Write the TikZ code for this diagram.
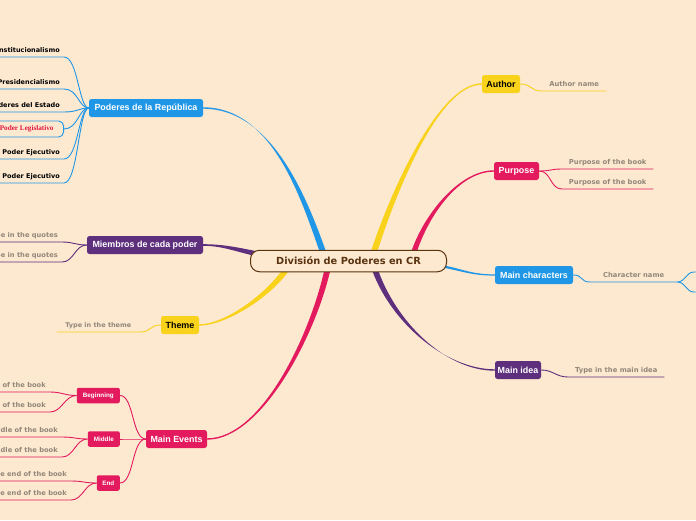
\documentclass[tikz,border=0pt]{standalone}
\usepackage{fontspec}
\setmainfont{Liberation Sans}
\newfontfamily\dvs{DejaVu Sans}
\newfontfamily\lserif{Liberation Serif}
\usetikzlibrary{calc}
\definecolor{bgc}{HTML}{FDE8D0}
\definecolor{cyel}{HTML}{F9D21C}
\definecolor{cred}{HTML}{E31B5E}
\definecolor{cblue}{HTML}{1F96E6}
\definecolor{cpur}{HTML}{5E2F7C}
\definecolor{cbrown}{HTML}{5A3310}
\definecolor{lgray}{HTML}{928879}
\definecolor{legred}{HTML}{E0163F}
\pgfdeclarelayer{bglayer}
\pgfsetlayers{bglayer,main}
\newcommand\brch[7]{\fill[#1] ($#2+#6$) .. controls +#3 and +#4 .. ($#5+#7$) -- ($#5-#7$) .. controls +#4 and +#3 .. ($#2-#6$) -- cycle;}
\tikzset{
 mainnode/.style={rounded corners=2.5pt, minimum height=18pt, inner sep=0pt, font=\fontsize{8.9}{10}\selectfont\bfseries, text=white},
 subnode/.style={rounded corners=2pt, fill=cred, inner sep=0pt, minimum height=15.5pt, font=\fontsize{6.3}{7}\selectfont\bfseries, text=white, anchor=east},
 leafR/.style={anchor=south west, inner xsep=0pt, inner ysep=4.5pt, text height=5pt, text depth=0pt, font=\dvs\bfseries\fontsize{6.8}{8}\selectfont, text=lgray},
 leafL/.style={anchor=south east, inner xsep=4pt, inner ysep=4.5pt, text height=5pt, text depth=0pt, font=\dvs\bfseries\fontsize{6.7}{8}\selectfont, text=lgray},
 leafK/.style={leafL, text=black, font=\dvs\bfseries\fontsize{6.5}{8}\selectfont},
 legis/.style={anchor=east, draw=cblue, line width=0.9pt, fill=bgc, rounded corners=5pt, minimum height=16pt, inner xsep=10pt, inner ysep=0pt, text=legred, font=\lserif\bfseries\fontsize{7.2}{8}\selectfont},
 conn/.style={line width=0.9pt},
}
\begin{document}
\begin{tikzpicture}[x=1pt,y=-1pt]
\useasboundingbox (0,0) rectangle (696,520);
\clip (0,0) rectangle (696,520);
% center
\node[draw=cbrown, line width=1pt, fill=bgc, rounded corners=9pt, minimum width=196pt, minimum height=21.5pt, inner sep=0pt, font=\dvs\bfseries\fontsize{9.8}{11}\selectfont, text=cbrown] (c) at (348.5,261) {División de Poderes en CR};
% main nodes
\node[mainnode, fill=cyel, text=black, minimum width=38pt] (aut) at (501,84) {Author};
\node[mainnode, fill=cred, minimum width=45pt] (pur) at (516.5,171) {Purpose};
\node[mainnode, fill=cblue, minimum width=78pt] (mch) at (534,275) {Main characters};
\node[mainnode, fill=cpur, minimum width=46pt] (mid) at (518,370) {Main idea};
\node[mainnode, fill=cblue, minimum width=114pt] (pod) at (146,108) {Poderes de la República};
\node[mainnode, fill=cpur, minimum width=116pt] (mie) at (145,245) {Miembros de cada poder};
\node[mainnode, fill=cyel, text=black, minimum width=38pt] (the) at (180,325) {Theme};
\node[mainnode, fill=cred, minimum width=61pt] (mev) at (176.5,439) {Main Events};
% sub nodes
\node[subnode, minimum width=43pt] (beg) at (120,395.5) {Beginning};
\node[subnode, minimum width=32pt] (mdl) at (120,439) {Middle};
\node[subnode, minimum width=23pt] (endn) at (120,483) {End};
% Poderes leaves
\node[leafK] (p1) at (64,57) {Constitucionalismo};
\node[leafK] (p2) at (64,89) {Presidencialismo};
\node[leafK] (p3) at (64,112) {Poderes del Estado};
\node[legis] (p4) at (64,129) {Poder Legislativo};
\node[leafK] (p5) at (64,159) {Poder Ejecutivo};
\node[leafK] (p6) at (64,183) {Poder Ejecutivo};
% Miembros leaves
\node[leafL] (q1) at (62,242) {Type in the quotes};
\node[leafL] (q2) at (62,262) {Type in the quotes};
% Main events leaves
\node[leafL] (b1) at (50,392) {Type in the beginning of the book};
\node[leafL] (b2) at (50,412) {Type in the beginning of the book};
\node[leafL] (m1) at (62,437) {Type in the middle of the book};
\node[leafL] (m2) at (62,457) {Type in the middle of the book};
\node[leafL] (e1) at (71,481) {Type in the end of the book};
\node[leafL] (e2) at (71,500) {Type in the end of the book};
% right leaves
\node[leafR, minimum width=64pt] (la) at (542,91) {Author name};
\node[leafR, minimum width=91pt] (lp1) at (562,169) {Purpose of the book};
\node[leafR, minimum width=91pt] (lp2) at (562,189) {Purpose of the book};
\node[leafR, minimum width=87pt] (lc) at (590,282) {Character name};
\node[leafR, minimum width=96pt] (lm) at (568,377) {Type in the main idea};
\node[leafR, anchor=south east, minimum width=83pt, font=\dvs\bfseries\fontsize{6.5}{8}\selectfont] (lt) at (140,332) {Type in the theme};
% branch ends
\coordinate (ePod) at (324,255);
\coordinate (eAut) at (373,255);
\coordinate (ePur) at (413,255);
\coordinate (eMch) at (440,266);
\coordinate (eMid) at (374,267);
\coordinate (eMie) at (258,254);
\coordinate (eThe) at (288,267);
\coordinate (eMev) at (328,267);
\coordinate (cu) at (694,272);
\coordinate (cuf) at (720,272);
\coordinate (cd) at (694,292);
\coordinate (cdf) at (720,292);
\begin{pgfonlayer}{bglayer}
\clip (0,0) rectangle (696,520);
\fill[bgc] (0,0) rectangle (696,520);
% thick branches
\brch{cblue}{(pod.east)}{(70,0)}{(-19,-54)}{(ePod)}{(0,0.7)}{(3.2,0)}
\brch{cyel}{(aut.west)}{(-45,0)}{(17,-54)}{(eAut)}{(0,0.7)}{(3.2,0)}
\brch{cred}{(pur.west)}{(-35,0)}{(12,-39)}{(ePur)}{(0,0.7)}{(2.8,0)}
\brch{cblue}{(mch.west)}{(-25,0)}{(20,3)}{(eMch)}{(0,0.6)}{(0,1.2)}
\brch{cpur}{(mid.west)}{(-50,0)}{(18,54)}{(eMid)}{(0,0.7)}{(3,0)}
\brch{cpur}{(mie.east)}{(20,0)}{(-20,-4)}{(eMie)}{(0,0.8)}{(0,2.5)}
\brch{cyel}{(the.east)}{(25,0)}{(-20,30)}{(eThe)}{(0,0.7)}{(2.4,1.6)}
\brch{cred}{(mev.east)}{(55,0)}{(-14,66)}{(eMev)}{(0,0.7)}{(3,0)}
% Poderes leaves
\foreach \n in {p1,p2,p3,p5,p6}
  \draw[conn, cblue] (pod.west) .. controls +(-10,0) and +(14,0) .. (\n.south east) -- (\n.south west);
\draw[conn, cblue] (pod.west) .. controls +(-10,0) and +(14,0) .. (p4.east);
% Miembros leaves
\foreach \n in {q1,q2}
  \draw[conn, cpur] (mie.west) .. controls +(-12,0) and +(12,0) .. (\n.south east) -- (\n.south west);
% Main events
\foreach \n in {beg,mdl,endn}
  \draw[conn, cred] (mev.west) .. controls +(-14,0) and +(14,0) .. (\n.east);
\foreach \n in {b1,b2}
  \draw[conn, cred] (beg.west) .. controls +(-12,0) and +(12,0) .. (\n.south east) -- (\n.south west);
\foreach \n in {m1,m2}
  \draw[conn, cred] (mdl.west) .. controls +(-12,0) and +(12,0) .. (\n.south east) -- (\n.south west);
\foreach \n in {e1,e2}
  \draw[conn, cred] (endn.west) .. controls +(-12,0) and +(12,0) .. (\n.south east) -- (\n.south west);
% right leaves
\draw[conn, cyel] (aut.east) .. controls +(12,0) and +(-12,0) .. (la.south west) -- (la.south east);
\foreach \n in {lp1,lp2}
  \draw[conn, cred] (pur.east) .. controls +(12,0) and +(-12,0) .. (\n.south west) -- (\n.south east);
\draw[conn, cblue] (mch.east) .. controls +(10,0) and +(-10,0) .. (lc.south west) -- (lc.south east);
\draw[conn, cblue] (lc.south east) .. controls +(8,0) and +(-8,0) .. (cu) -- (cuf);
\draw[conn, cblue] (lc.south east) .. controls +(8,0) and +(-8,0) .. (cd) -- (cdf);
\draw[conn, cpur] (mid.east) .. controls +(12,0) and +(-12,0) .. (lm.south west) -- (lm.south east);
\draw[conn, cyel] (the.west) .. controls +(-12,0) and +(12,0) .. (lt.south east) -- (lt.south west);
\end{pgfonlayer}
\end{tikzpicture}
\end{document}
